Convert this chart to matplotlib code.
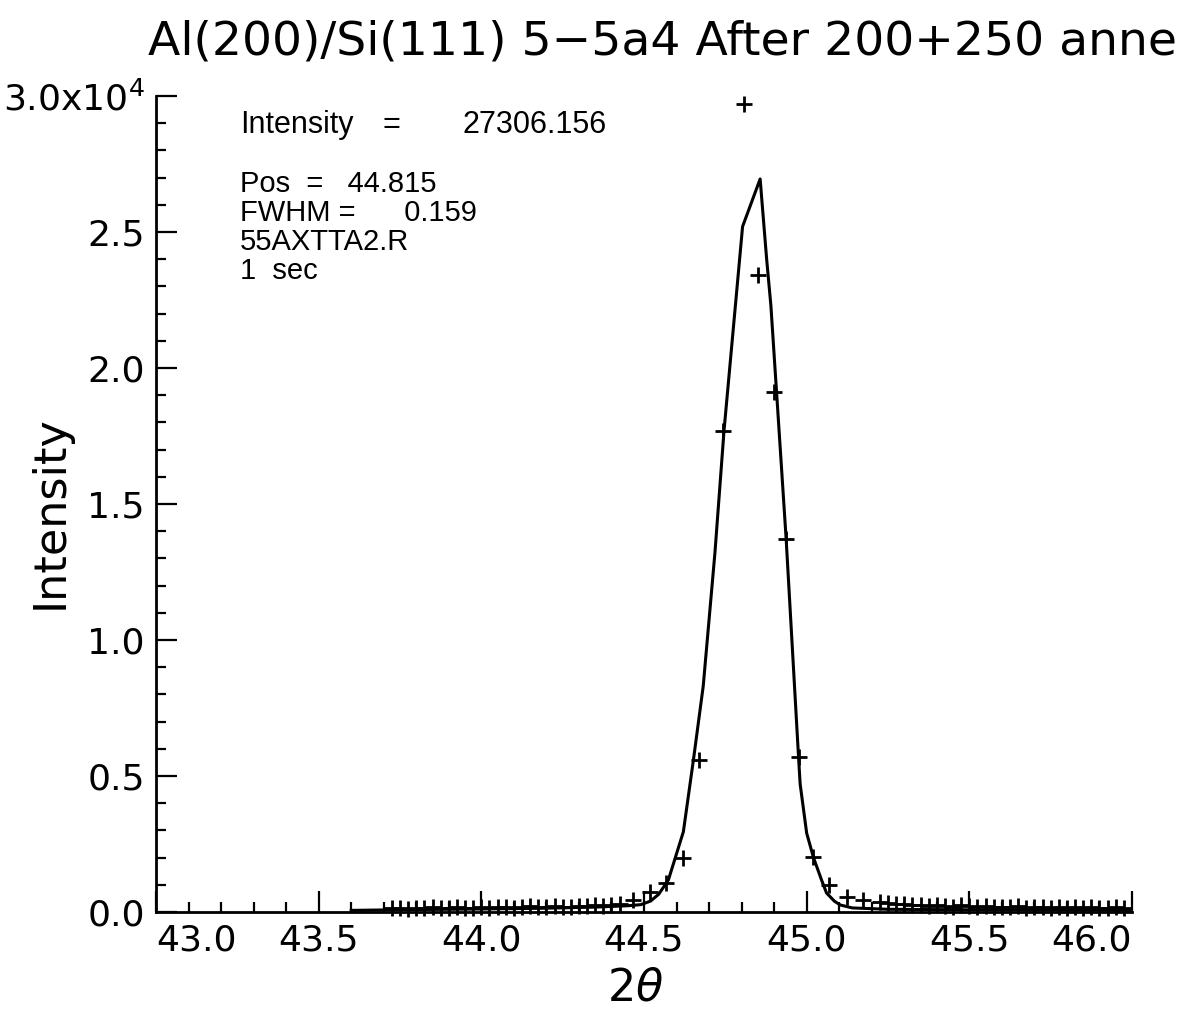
import matplotlib.pyplot as plt
import numpy as np

# measured points (2theta, counts)
peak_x = [44.467, 44.519, 44.569, 44.621, 44.670, 44.744, 44.808, 44.851,
          44.900, 44.937, 44.975, 45.021, 45.070, 45.123, 45.174, 45.226]
peak_y = [440, 750, 1080, 1970, 5600, 17700, 29700, 23420,
          19130, 13700, 5700, 2010, 990, 560, 440, 380]

# low background points either side of the peak
left_x = [43.725, 43.75, 43.775, 43.80, 43.825, 43.85, 43.875, 43.90, 43.925,
          43.95, 43.975, 44.00, 44.025, 44.05, 44.075, 44.10, 44.125, 44.15,
          44.175, 44.20, 44.225, 44.25, 44.275, 44.30, 44.325, 44.35, 44.375,
          44.40, 44.425]
left_y = [130, 150, 120, 160, 140, 170, 130, 150, 180, 140, 160, 190, 150, 170,
          200, 160, 180, 210, 170, 190, 220, 180, 200, 230, 210, 240, 220, 260, 300]
right_x = [45.25, 45.275, 45.30, 45.325, 45.35, 45.375, 45.40, 45.425, 45.45,
           45.475, 45.50, 45.525, 45.55, 45.575, 45.60, 45.625, 45.65, 45.675,
           45.70, 45.725, 45.75, 45.775, 45.80, 45.825, 45.85, 45.875, 45.90,
           45.925, 45.95, 45.975]
right_y = [330, 300, 310, 270, 250, 230, 260, 220, 200, 240, 210, 190, 230, 180,
           200, 170, 210, 160, 190, 170, 150, 200, 160, 180, 150, 170, 140, 160,
           190, 150]

# fitted curve
fit_x = [43.60, 43.80, 44.00, 44.20, 44.35, 44.45, 44.49, 44.52, 44.545, 44.575,
         44.621, 44.652, 44.682, 44.718, 44.746, 44.803, 44.857, 44.877, 44.89,
         44.913, 44.937, 44.975, 44.98, 45.00, 45.021, 45.045, 45.061, 45.085,
         45.103, 45.14, 45.25, 45.50, 45.80, 46.00]
fit_y = [60, 90, 110, 140, 180, 230, 270, 400, 650, 1180,
         2950, 5600, 8300, 13200, 17700, 25200, 26950, 24000, 22300,
         18100, 13700, 5700, 4700, 2900, 2000, 1200, 700, 400,
         260, 150, 100, 80, 70, 60]

xticks = [43.0, 43.5, 44.0, 44.5, 45.0, 45.5, 46.0]
xlabels = ['43.0', '43.5', '44.0', '44.5', '45.0', '45.5', '46.0']
yticks = [0, 5000, 10000, 15000, 20000, 25000, 30000]
ylabels = ['0.0', '0.5', '1.0', '1.5', '2.0', '2.5', r'3.0x10$^{4}$']

W, H = 1177, 1013
fig = plt.figure(figsize=(W / 100, H / 100), dpi=100)
ax = fig.add_axes([156 / W, 1 - 912 / H, (1132 - 156) / W, (912 - 96) / H])

ax.plot(fit_x, fit_y, color='k', lw=2.2)
ax.plot(left_x + peak_x + right_x, left_y + peak_y + right_y, 'k+',
        ms=11, mew=2, clip_on=False)

ax.set_xlim(43.0, 46.0)
ax.set_ylim(0, 30000)
for s in ['top', 'right']:
    ax.spines[s].set_visible(False)
for s in ['left', 'bottom']:
    ax.spines[s].set_linewidth(2)

ax.set_xticks(xticks)
ax.set_xticklabels(xlabels)
ax.set_xticks(np.arange(43.0, 46.01, 0.1), minor=True)
ax.set_yticks(yticks)
ax.set_yticklabels(ylabels)
ax.set_yticks(np.arange(0, 30001, 1000), minor=True)
ax.tick_params(which='major', direction='in', length=15, width=1.6,
               labelsize=26, pad=8)
ax.tick_params(which='minor', direction='in', length=7, width=1.6)
lbls = ax.get_xticklabels()
lbls[0].set_ha('left')
lbls[-1].set_ha('right')

fig.text(148 / W, 1 - 42 / H, 'Al(200)/Si(111) 5\u22125a4 After 200+250 anne',
         fontsize=34, ha='left', va='center')
fig.text(50 / W, 1 - 512 / H, 'Intensity', fontsize=32, rotation=90,
         ha='center', va='center')
fig.text(635 / W, 1 - 988 / H, r'$2\theta$', fontsize=32,
         ha='center', va='center')

# fit summary block
fig.text(240 / W, 1 - 125 / H, 'Intensity', fontsize=22,
         family='Liberation Sans', ha='left', va='center')
fig.text(383 / W, 1 - 125 / H, '=', fontsize=22,
         family='Liberation Sans', ha='left', va='center')
fig.text(463 / W, 1 - 125 / H, '27306.156', fontsize=22,
         family='Liberation Sans', ha='left', va='center')
info = 'Pos  =   44.815\nFWHM =      0.159\n55AXTTA2.R\n1  sec'
fig.text(240 / W, 1 - 170 / H, info, fontsize=21, family='Liberation Sans',
         ha='left', va='top', linespacing=1.04)

fig.savefig('out.png', dpi=100, facecolor='white')
